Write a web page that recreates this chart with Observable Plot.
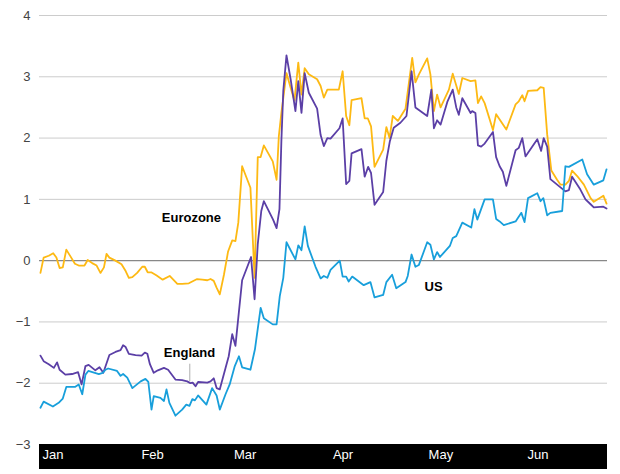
<!DOCTYPE html>
<html><head><meta charset="utf-8">
<script src="https://cdn.jsdelivr.net/npm/d3@7"></script>
<script src="https://cdn.jsdelivr.net/npm/@observablehq/plot@0.6"></script>
<style>body{margin:0;background:#fff} #chart svg{display:block}</style>
</head><body><div id="chart"></div>
<script>
// x positions are day offsets from 1 Jan 2020
const euroDays = [0.3,1.3,2.9,4.3,5.3,6.3,7.3,8.4,9.7,11.1,12.3,14.1,15.1,16.5,17.9,19.1,20.2,21.0,21.9,23.8,25.7,27.0,28.0,29.1,30.6,32.2,33.0,33.9,35.0,36.6,38.6,40.8,43.2,44.7,46.8,49.4,51.0,52.6,53.6,54.6,55.5,56.5,57.8,59.1,60.4,61.4,62.3,63.5,66.1,67.4,68.4,69.3,70.3,73.1,74.3,75.0,75.8,77.4,78.7,79.9,81.1,82.1,83.1,84.4,87.0,88.1,89.1,90.2,93.8,95.0,96.1,97.1,97.8,100.9,101.9,102.9,103.9,105.0,107.7,108.7,109.7,110.7,112.3,114.7,116.8,117.8,118.9,121.5,122.5,123.6,124.6,125.7,128.3,129.5,131.4,132.5,135.1,136.6,137.4,138.4,139.5,142.1,143.1,146.3,149.2,150.2,151.3,152.0,153.1,156.0,157.0,158.0,159.1,160.4,162.2,163.3,164.8,165.9,166.9,168.5,170.6,172.7,173.7,176.7,177.7];
const euroValues = [-0.20,0.05,0.08,0.12,0.05,-0.12,-0.11,0.18,0.07,-0.05,-0.08,-0.08,0.01,-0.04,-0.08,-0.20,-0.11,0.11,0.05,0.00,-0.06,-0.17,-0.28,-0.27,-0.20,-0.10,-0.10,-0.19,-0.19,-0.24,-0.31,-0.25,-0.38,-0.38,-0.37,-0.30,-0.31,-0.32,-0.30,-0.33,-0.44,-0.55,-0.23,0.15,0.33,0.32,0.62,1.54,1.19,-0.28,1.69,1.69,1.88,1.62,1.32,2.03,2.41,3.06,2.82,2.61,3.23,2.71,3.14,3.04,2.96,2.85,2.66,2.79,2.79,3.09,2.36,2.21,2.62,2.65,2.32,2.32,2.19,1.53,1.81,2.18,2.00,2.36,2.28,2.48,3.31,2.91,3.04,3.30,3.04,2.44,2.71,2.50,2.79,3.05,2.72,2.98,2.93,2.94,2.57,2.68,2.57,2.13,2.39,2.14,2.55,2.60,2.70,2.60,2.77,2.78,2.83,2.82,2.06,1.47,1.32,1.24,1.24,1.30,1.47,1.38,1.24,1.02,0.96,1.06,0.93];

const englandDays = [0.3,1.3,2.9,4.5,5.5,6.3,8.1,10.2,12.1,13.2,14.4,15.4,17.5,18.8,20.0,21.9,23.8,25.4,26.2,27.0,28.0,30.1,32.0,33.0,33.8,34.6,35.8,37.1,39.0,40.3,42.6,44.7,46.3,47.3,48.0,48.9,49.7,52.6,53.6,54.6,55.5,56.5,58.3,59.3,60.4,61.4,63.5,66.3,67.4,68.4,69.5,70.3,73.2,74.3,75.2,75.8,76.4,77.4,78.7,80.2,81.1,82.1,83.1,84.4,87.0,88.1,89.1,90.2,91.2,94.0,95.0,96.1,97.1,97.8,100.9,101.9,103.0,103.9,105.0,107.7,108.7,109.8,111.0,113.1,115.0,116.6,117.8,121.5,122.8,123.6,124.6,125.7,127.8,129.5,130.6,131.4,132.5,135.1,135.6,136.6,137.4,138.4,139.5,142.1,143.1,144.2,145.2,146.3,149.2,150.2,151.3,152.3,156.0,157.2,158.0,159.1,160.1,164.8,165.9,166.9,169.5,171.1,172.7,173.7,176.7,177.7];
const englandValues = [-1.55,-1.64,-1.69,-1.75,-1.66,-1.78,-1.86,-1.85,-1.82,-2.02,-1.72,-1.70,-1.79,-1.74,-1.83,-1.54,-1.49,-1.46,-1.38,-1.41,-1.52,-1.54,-1.55,-1.50,-1.52,-1.69,-1.83,-1.79,-1.75,-1.78,-1.94,-1.95,-1.97,-2.00,-1.99,-2.05,-1.98,-1.99,-1.97,-1.92,-2.08,-2.10,-1.75,-1.56,-1.20,-1.39,-0.32,0.06,-0.63,0.27,0.81,0.97,0.67,0.53,0.84,1.95,2.77,3.35,2.96,2.44,2.93,2.41,3.06,2.74,2.48,2.05,1.87,2.00,1.99,2.16,2.32,1.25,1.30,1.75,1.82,1.37,1.53,1.43,0.91,1.12,1.63,1.95,2.17,2.25,2.36,3.09,2.50,2.36,2.79,2.16,2.29,2.22,2.59,2.79,2.50,2.38,2.65,2.41,2.44,2.41,1.88,1.86,1.91,2.10,1.69,1.54,1.45,1.22,1.80,1.84,2.00,1.70,1.98,1.79,2.00,1.86,1.33,1.13,1.15,1.37,1.16,1.00,0.92,0.87,0.88,0.85];

const usDays = [0.3,1.3,4.2,6.0,7.3,8.4,11.1,12.3,13.4,14.4,15.3,18.6,19.8,20.7,21.5,24.3,25.4,26.2,27.5,29.1,31.7,33.2,34.1,35.1,35.8,37.9,39.0,39.8,40.7,42.6,44.7,46.0,47.0,47.9,48.7,49.7,52.3,54.1,55.5,56.5,58.3,59.6,61.2,62.5,63.5,66.1,67.5,69.3,70.3,73.1,74.3,75.3,76.4,77.4,80.2,81.1,82.1,83.1,84.1,86.5,88.1,89.1,90.2,91.2,94.1,95.0,96.1,96.9,98.0,101.6,103.7,105.0,107.7,108.7,110.5,111.8,114.7,115.4,116.6,117.8,118.9,121.5,122.5,123.6,124.6,125.5,128.6,129.5,130.6,132.5,135.3,136.3,137.2,139.5,142.1,143.1,144.2,145.5,149.2,151.0,152.0,153.1,156.0,157.0,157.9,159.1,160.1,163.8,164.8,165.9,170.1,171.6,173.7,176.7,177.7];
const usValues = [-2.40,-2.30,-2.38,-2.32,-2.25,-2.06,-2.06,-2.02,-2.18,-1.86,-1.80,-1.85,-1.83,-1.78,-1.76,-1.80,-1.88,-1.85,-1.91,-2.08,-1.97,-1.93,-1.98,-2.43,-2.21,-2.24,-2.29,-2.10,-2.32,-2.53,-2.43,-2.35,-2.37,-2.26,-2.28,-2.20,-2.35,-2.08,-2.20,-2.43,-2.18,-2.02,-1.72,-1.56,-1.74,-1.78,-1.45,-0.77,-0.94,-1.04,-1.04,-0.58,-0.28,0.30,0.02,0.25,0.17,0.56,0.24,-0.10,-0.29,-0.25,-0.28,-0.15,0.00,-0.26,-0.26,-0.34,-0.26,-0.40,-0.35,-0.60,-0.56,-0.35,-0.23,-0.45,-0.35,-0.25,0.10,-0.10,-0.07,0.30,0.26,0.02,0.14,0.06,0.24,0.37,0.40,0.62,0.54,0.84,0.67,1.00,1.00,0.68,0.64,0.58,0.64,0.78,0.63,1.02,1.10,0.97,1.02,0.74,0.78,0.81,1.54,1.53,1.65,1.41,1.24,1.31,1.49];

const seriesNames = ["Eurozone", "England", "US"];
const seriesColors = ["#FDB913", "#5B3FA6", "#189FDB"];
const yTicks = [-3, -2, -1, 0, 1, 2, 3, 4];
const monthLabels = ["Jan", "Feb", "Mar", "Apr", "May", "Jun"];
const monthStartDays = [0, 31, 60, 91, 121, 152];
const domainDays = [0, 178];

const labelNames = ["Eurozone", "England", "US"];
const labelDays = [47.6, 47.0, 123.5];
const labelValues = [0.70, -1.51, -0.42];
const leaderDay = 47.1;
const leaderValues = [-1.69, -1.98];

const dayStart = Date.UTC(2020, 0, 1);
const toDate = d => new Date(dayStart + d * 864e5);

const rows = (name, days, values) => days.map((d, i) => ({series: name, date: toDate(d), value: values[i]}));
const data = [
  ...rows("Eurozone", euroDays, euroValues),
  ...rows("England", englandDays, englandValues),
  ...rows("US", usDays, usValues)
];
const labels = labelNames.map((n, i) => ({name: n, date: toDate(labelDays[i]), value: labelValues[i]}));
const monthTicks = monthStartDays.map(toDate);
const monthMap = new Map(monthTicks.map((d, i) => [+d, monthLabels[i]]));
const fmtY = d => (d < 0 ? "\u2212" : "") + Math.abs(d);

const plot = Plot.plot({
  width: 620,
  height: 474,
  marginLeft: 39,
  marginRight: 13,
  marginTop: 15,
  marginBottom: 30,
  style: {fontFamily: "'Liberation Sans', Arial, sans-serif", fontSize: "13px", background: "#fff", color: "#444"},
  x: {type: "utc", domain: domainDays.map(toDate), label: null},
  y: {domain: [yTicks[0], yTicks[yTicks.length - 1]], label: null},
  color: {domain: seriesNames, range: seriesColors},
  marks: [
    Plot.ruleY(yTicks.filter(t => t !== 0), {stroke: "#cccccc", strokeWidth: 1}),
    Plot.ruleY([0], {stroke: "#888888", strokeWidth: 1.2}),
    Plot.axisY({ticks: yTicks, tickSize: 0, tickPadding: 9, tickFormat: fmtY, label: null, fill: "#444", fontSize: 13}),
    Plot.line(data, {x: "date", y: "value", z: "series", stroke: "series", strokeWidth: 1.8, strokeLinejoin: "round"}),
    Plot.ruleX([toDate(leaderDay)], {y1: leaderValues[0], y2: leaderValues[1], stroke: "#999", strokeWidth: 0.8}),
    Plot.text(labels, {x: "date", y: "value", text: "name", fill: "#000", fontWeight: "bold", fontSize: 13}),
    Plot.axisX({ticks: monthTicks, tickSize: 0, tickPadding: 5, tickFormat: d => monthMap.get(+d), label: null, textAnchor: "start", dx: 3, fill: "#fff", fontSize: 13})
  ]
});

document.getElementById("chart").appendChild(plot);

// dark band behind the month labels
const xr = plot.scale("x").range;
const yr = plot.scale("y").range;
const ns = "http://www.w3.org/2000/svg";
const band = document.createElementNS(ns, "rect");
band.setAttribute("x", Math.min(...xr));
band.setAttribute("y", Math.max(...yr));
band.setAttribute("width", Math.abs(xr[1] - xr[0]));
band.setAttribute("height", 25);
band.setAttribute("fill", "#000");
const xAxisG = plot.querySelector('[aria-label="x-axis tick label"]');
if (xAxisG) xAxisG.parentNode.insertBefore(band, xAxisG); else plot.insertBefore(band, plot.firstChild);
</script></body></html>
